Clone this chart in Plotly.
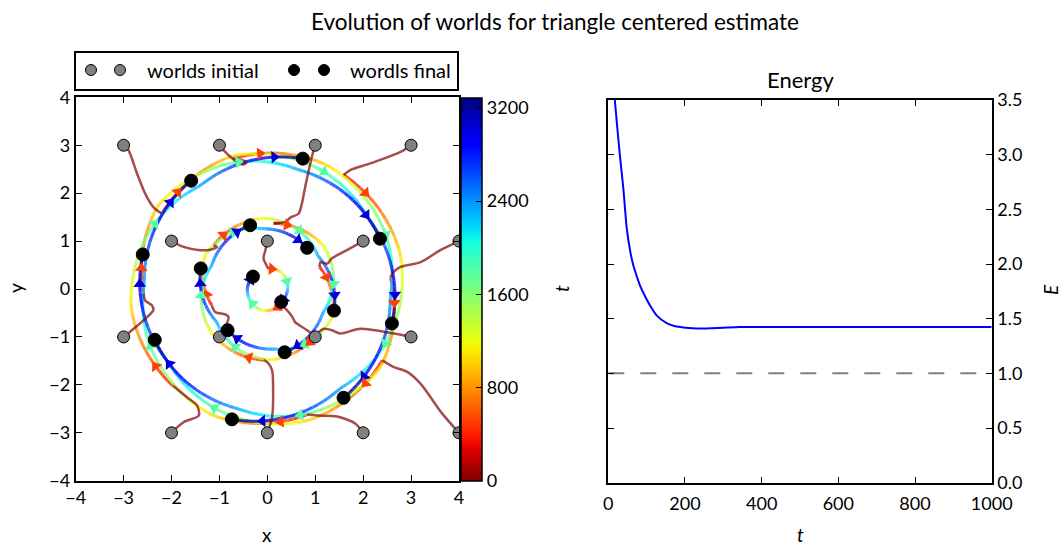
import numpy as np
import plotly.graph_objects as go

W, H = 1063, 547
FONT = "Lato"

# ---------------------------------------------------------------- data
T_END = 3290      # last time step of the world simulation
T_JOIN = 300      # time at which each world settles onto its orbit

init_x = [-3, -1, 3, 4, -3, -2, 2, 4, 1, -2, 2, -1, 3, 0, 0, 1]
init_y = [3, 3, 3, 1, -1, -3, -3, -3, 3, 1, 1, -1, -1, -3, 1, -1]

final_x = [2.60, 1.59, -0.74, -2.35, 2.35, 0.74, -1.59, -2.60,
           0.36, 1.39, -0.83, 0.83, -1.39, -0.36, 0.29, -0.30]
final_y = [-0.72, -2.27, -2.72, -1.06, 1.05, 2.72, 2.26, 0.72,
           -1.32, -0.45, -0.86, 0.86, 0.43, 1.33, -0.27, 0.26]

orbit = ["outer"] * 8 + ["middle"] * 6 + ["inner"] * 2

# early (transient) path of every world, from its start to its orbit
transient_x = [
    [-3, -2.9, -2.72, -2.55, -2.38, -2.2],
    [-1, -0.88, -0.7, -0.5, -0.44, -0.55, -0.72],
    [3, 2.78, 2.15, 1.73, 1.59],
    [4, 3.61, 3.2, 2.78, 2.64, 2.57],
    [-3, -2.79, -2.58, -2.38, -2.41, -2.55, -2.58],
    [-2, -1.75, -1.43, -1.47, -1.68, -1.97],
    [2, 1.84, 1.46, 1.04, 0.83],
    [4, 3.65, 3.2, 2.92, 2.64, 2.4],
    [1, 0.93, 0.79, 0.72, 0.65, 0.48, 0.38, 0.13],
    [-2, -1.75, -1.4, -1.19, -1.05, -1.12],
    [2, 1.66, 1.35, 1.25, 1.11, 1.09],
    [-1, -0.91, -0.81, -0.88, -1.09, -1.16],
    [3, 2.64, 1.94, 1.52, 1.35, 1.18, 1.07],
    [0, 0.1, 0.12, 0.1, 0.02, -0.08],
    [0, -0.04, -0.08, 0.0, 0.02],
    [1, 0.83, 0.58, 0.52, 0.38, 0.28],
]
transient_y = [
    [3, 2.9, 2.41, 1.99, 1.71, 1.57],
    [3, 2.86, 2.7, 2.6, 2.64, 2.7, 2.72],
    [3, 2.86, 2.62, 2.48, 2.38],
    [1, 0.81, 0.56, 0.46, 0.36, 0.25],
    [-1, -0.83, -0.65, -0.44, -0.34, -0.24, -0.1],
    [-3, -2.78, -2.64, -2.43, -2.26, -2.02],
    [-3, -2.81, -2.66, -2.64, -2.62],
    [-3, -2.6, -1.98, -1.73, -1.63, -1.49],
    [3, 2.76, 2.13, 1.78, 1.57, 1.49, 1.40, 1.37],
    [1, 0.88, 0.81, 0.82, 0.88, 0.91],
    [1, 0.81, 0.64, 0.53, 0.56, 0.46],
    [-1, -0.86, -0.58, -0.53, -0.48, -0.34],
    [-1, -0.93, -0.83, -0.93, -0.86, -0.83, -0.9],
    [-3, -2.67, -2.05, -1.7, -1.55, -1.48],
    [1, 0.81, 0.64, 0.46, 0.42],
    [-1, -0.86, -0.69, -0.58, -0.41, -0.32],
]

# orbit radius along the way (fraction of the orbit time -> radius)
orbit_s = {"outer": [0.25, 0.5, 0.68], "middle": [0.3, 0.5, 0.68], "inner": [0.3, 0.6]}
orbit_r = {"outer": [2.87, 2.72, 2.57], "middle": [1.48, 1.39, 1.26], "inner": [0.46, 0.43]}

arrow_t = [520, 1800, 3050]

energy_t = [0, 8, 17, 30, 39, 48, 57, 65, 74, 82, 91, 109, 126, 152, 175, 196, 239, 300, 343, 500, 1000]
energy_v = [4.3, 3.9, 3.5, 3.0, 2.70, 2.33, 2.12, 1.99, 1.89, 1.81, 1.74, 1.62, 1.53, 1.46, 1.43,
            1.42, 1.41, 1.418, 1.424, 1.425, 1.425]
reference_t = [0, 1000]
reference_v = [1.0, 1.0]

xy_ticks = [-4, -3, -2, -1, 0, 1, 2, 3, 4]
cbar_ticks = [0, 800, 1600, 2400, 3200]
e_ticks = [0, 0.5, 1.0, 1.5, 2.0, 2.5, 3.0, 3.5]
t_ticks = [0, 200, 400, 600, 800, 1000]

# ---------------------------------------------------------------- colour map
JET = {
    "r": ([0, 0.35, 0.66, 0.89, 1], [0, 0, 1, 1, 0.5]),
    "g": ([0, 0.125, 0.375, 0.64, 0.91, 1], [0, 0, 1, 1, 0, 0]),
    "b": ([0, 0.11, 0.34, 0.65, 1], [0.5, 1, 1, 0, 0]),
}


def jet_r(v):
    u = 1 - v
    return tuple(int(round(255 * np.interp(u, *JET[c]))) for c in "rgb")


def rgba(c, a):
    return f"rgba({c[0]},{c[1]},{c[2]},{a})"


colorscale = [[f, "rgb(%d,%d,%d)" % jet_r(f)] for f in np.linspace(0, 1, 41)]


def px_x(x):
    return x / W


def px_y(y):
    return 1 - y / H


# ---------------------------------------------------------------- orbits
N_ARC = 260
arcs = []
for w in range(len(init_x)):
    jx, jy = transient_x[w][-1], transient_y[w][-1]
    a0 = np.degrees(np.arctan2(jy, jx))
    a1 = np.degrees(np.arctan2(final_y[w], final_x[w]))
    travel = (a0 - a1) % 360
    s = np.linspace(0, 1, N_ARC)
    ang = np.radians(a0 - travel * s)
    r_keys = [np.hypot(jx, jy)] + orbit_r[orbit[w]] + [np.hypot(final_x[w], final_y[w])]
    s_keys = [0] + orbit_s[orbit[w]] + [1]
    r = np.interp(s, s_keys, r_keys)
    t = T_JOIN + (T_END - T_JOIN) * s
    arcs.append((r * np.cos(ang), r * np.sin(ang), t))

fig = go.Figure()

# orbit lines, grouped by colour band
NB = 64
edges = np.linspace(0, T_END, NB + 1)
for b in range(NB):
    xs, ys = [], []
    for ax_, ay_, at_ in arcs:
        mid = 0.5 * (at_[:-1] + at_[1:])
        idx = np.where((mid >= edges[b]) & (mid < edges[b + 1]))[0]
        if len(idx) == 0:
            continue
        i0, i1 = idx[0], idx[-1] + 1
        xs += list(ax_[i0:i1 + 1]) + [None]
        ys += list(ay_[i0:i1 + 1]) + [None]
    if not xs:
        continue
    col = jet_r((edges[b] + edges[b + 1]) / 2 / T_END)
    fig.add_trace(go.Scatter(x=xs, y=ys, mode="lines", xaxis="x", yaxis="y",
                             line=dict(color=rgba(col, 0.8), width=3.1),
                             hoverinfo="skip", showlegend=False))

# transient paths
for w in range(len(init_x)):
    fig.add_trace(go.Scatter(x=transient_x[w], y=transient_y[w], mode="lines",
                             line=dict(color="rgba(128,0,0,0.7)", width=2.5, shape="spline",
                                       smoothing=0.8),
                             hoverinfo="skip", showlegend=False))

# direction arrows along the orbits
arr_x, arr_y, arr_a, arr_c = [], [], [], []
for ax_, ay_, at_ in arcs:
    for ta in arrow_t:
        i = int(np.argmin(np.abs(at_ - ta)))
        i = min(max(i, 1), len(at_) - 2)
        dx, dy = ax_[i + 1] - ax_[i - 1], ay_[i + 1] - ay_[i - 1]
        arr_x.append(ax_[i])
        arr_y.append(ay_[i])
        arr_a.append(float(np.degrees(np.arctan2(dx, dy))))
        arr_c.append(at_[i])

fig.add_trace(go.Scatter(
    x=arr_x, y=arr_y, mode="markers", hoverinfo="skip", showlegend=False,
    marker=dict(symbol="triangle-up", size=11, angle=arr_a, color=arr_c,
                colorscale=colorscale, cmin=0, cmax=T_END, line=dict(width=0),
                colorbar=dict(x=px_x(461), xanchor="left", xpad=0, ypad=0,
                              y=px_y(289), yanchor="middle", len=383, lenmode="pixels",
                              thickness=21, thicknessmode="pixels",
                              outlinewidth=1.5, outlinecolor="black",
                              tickvals=cbar_ticks, ticks="inside", ticklen=6,
                              tickcolor="black",
                              tickfont=dict(family=FONT, size=18, color="black"))),
))

fig.add_trace(go.Scatter(x=init_x, y=init_y, mode="markers", hoverinfo="skip", showlegend=False,
                         marker=dict(size=12, color="#808080", line=dict(color="black", width=1))))
fig.add_trace(go.Scatter(x=final_x, y=final_y, mode="markers", hoverinfo="skip", showlegend=False,
                         marker=dict(size=13, color="black", line=dict(color="black", width=1))))

# energy panel
fig.add_trace(go.Scatter(x=reference_t, y=reference_v, mode="lines", xaxis="x2", yaxis="y2",
                         line=dict(color="#808080", width=2, dash="16px,16px"),
                         hoverinfo="skip", showlegend=False))
fig.add_trace(go.Scatter(x=energy_t, y=energy_v, mode="lines", xaxis="x2", yaxis="y2",
                         line=dict(color="#0000ff", width=2, shape="spline", smoothing=0.6),
                         hoverinfo="skip", showlegend=False))


def frame(**kw):
    d = dict(showline=True, linewidth=2, linecolor="black", mirror="ticks",
             ticks="inside", ticklen=6, tickwidth=1, tickcolor="black",
             showgrid=False, zeroline=False, automargin=False,
             tickfont=dict(family=FONT, size=18, color="black"))
    d.update(kw)
    return d


def minus(v):
    return str(v).replace("-", "\u2212")


fig.update_layout(
    width=W, height=H, margin=dict(l=0, r=0, t=0, b=0, autoexpand=False),
    paper_bgcolor="white", plot_bgcolor="white", showlegend=False,
    font=dict(family=FONT, color="black"),
    xaxis=frame(domain=[px_x(75.7), px_x(459)], range=[-4, 4], anchor="y",
                tickvals=xy_ticks, ticktext=[minus(v) for v in xy_ticks]),
    yaxis=frame(domain=[px_y(480.7), px_y(97.3)], range=[-4, 4], anchor="x",
                tickvals=xy_ticks, ticktext=[minus(v) for v in xy_ticks]),
    xaxis2=frame(domain=[px_x(608.3), px_x(991.7)], range=[0, 1000], anchor="y2",
                 tickvals=t_ticks, ticklabelstandoff=4),
    yaxis2=frame(domain=[px_y(482.7), px_y(100)], range=[0, 3.5], anchor="x2", side="right",
                 tickvals=e_ticks, ticktext=["%.1f" % v for v in e_ticks]),
)

ann = [
    dict(text="Evolution of worlds for triangle centered estimate", x=555, y=21, size=22.5, angle=0),
    dict(text="Energy", x=800, y=80, size=22, angle=0),
    dict(text="x", x=267, y=534, size=19, angle=0),
    dict(text="y", x=15, y=288, size=19, angle=-90),
    dict(text="<i>t</i>", x=561, y=289, size=19, angle=-90),
    dict(text="<i>t</i>", x=800, y=534, size=19, angle=0),
    dict(text="<i>E</i>", x=1050, y=290, size=19, angle=-90),
]
for a in ann:
    fig.add_annotation(text=a["text"], x=px_x(a["x"]), y=px_y(a["y"]), xref="paper", yref="paper",
                       showarrow=False, textangle=a["angle"], xanchor="center", yanchor="middle",
                       font=dict(family=FONT, size=a["size"], color="black"))

# legend box drawn above the world panel
fig.add_shape(type="rect", xref="paper", yref="paper", x0=px_x(75), x1=px_x(458),
              y0=px_y(90), y1=px_y(52), line=dict(color="black", width=2), fillcolor="white")
for cx, fill in [(91, "#808080"), (120, "#808080"), (294, "black"), (324, "black")]:
    fig.add_shape(type="circle", xref="paper", yref="paper", xsizemode="pixel", ysizemode="pixel",
                  xanchor=px_x(cx), yanchor=px_y(70), x0=-5.5, x1=5.5, y0=-5.5, y1=5.5,
                  fillcolor=fill, line=dict(color="black", width=1))
for tx, label in [(145, "worlds initial"), (348, "wordls final")]:
    fig.add_annotation(text=label, x=px_x(tx), y=px_y(70), xref="paper", yref="paper",
                       showarrow=False, xanchor="left", yanchor="middle",
                       font=dict(family=FONT, size=20, color="black"))

fig.write_html("out.html")
